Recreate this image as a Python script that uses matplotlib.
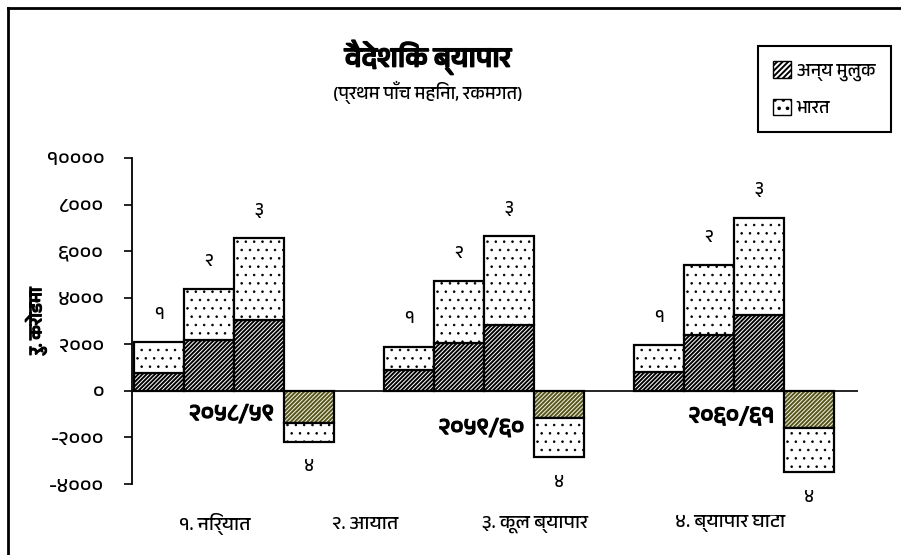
import matplotlib
matplotlib.use("Agg")
import matplotlib.pyplot as plt
import matplotlib.font_manager as fm
import matplotlib.patheffects as pe
from matplotlib.ft2font import FT2Font
from matplotlib.patches import Patch
from matplotlib.lines import Line2D

# find a font with Devanagari glyphs, if one is installed
def find_deva_font():
    names = []
    for f in fm.fontManager.ttflist:
        try:
            cmap = FT2Font(f.fname).get_charmap()
        except Exception:
            continue
        if 0x0915 in cmap and 0x0966 in cmap:
            names.append(f.name)
    names.sort(key=lambda n: ("Devanagari" not in n, n))
    return names[0] if names else None

deva = find_deva_font()
fams = [deva, "DejaVu Sans"] if deva else ["DejaVu Sans"]
plt.rcParams['font.family'] = fams
plt.rcParams['hatch.linewidth'] = 1.4

# data (रु. करोडमा)
years = ['२०५८/५९', '२०५९/६०', '२०६०/६१']
bar_nums = ['१', '२', '३', '४']
categories = ['१. निर्यात', '२. आयात', '३. कूल ब्यापार', '४. ब्यापार घाटा']
anya_muluk = [[770, 2190, 3050, -1390],
              [900, 2050, 2830, -1170],
              [830, 2400, 3260, -1600]]
bharat = [[1330, 2170, 3500, -790],
          [1000, 2670, 3820, -1680],
          [1120, 3010, 4180, -1890]]
yticks = [-4000, -2000, 0, 2000, 4000, 6000, 8000, 10000]
ytick_labels = ['-४०००', '-२०००', '०', '२०००', '४०००', '६०००', '८०००', '१००००']

bold = [pe.withStroke(linewidth=0.9, foreground='black')]

fig = plt.figure(figsize=(9.01, 5.55), dpi=100)
ax = fig.add_axes([132 / 901, 1 - 484 / 555, 726 / 901, 326 / 555])

olive_face = '#f4f4e4'
olive_hatch = '#55551c'


def thin_dots(bars):
    for p in bars:
        if hasattr(p, 'set_hatch_linewidth'):
            p.set_hatch_linewidth(0.6)


for g, year in enumerate(years):
    for i in range(4):
        x = 5 * g + i
        a = anya_muluk[g][i]
        b = bharat[g][i]
        if i == 3:
            # deficit bar: olive hatch, black outline drawn separately
            ax.bar(x, a, width=1, color=olive_face, edgecolor=olive_hatch,
                   hatch='////////', linewidth=0)
            ax.bar(x, a, width=1, fill=False, edgecolor='black', linewidth=1.6)
        else:
            ax.bar(x, a, width=1, color='white', edgecolor='black',
                   hatch='////////', linewidth=1.6)
        bb = ax.bar(x, b, bottom=a, width=1, color='white', edgecolor='black',
                    hatch='..', linewidth=1.6)
        thin_dots(bb)
        total = a + b
        off = 20 if total > 0 else -18
        ax.annotate(bar_nums[i], (x, total), xytext=(0, off),
                    textcoords='offset points', ha='center', va='center',
                    fontsize=13)

year_y = [-1000, -1600, -1100]
for g, year in enumerate(years):
    ax.text(5 * g + 1.45, year_y[g], year, ha='center', va='center',
            fontsize=17, path_effects=bold)

ax.axhline(0, color='black', linewidth=1.2, zorder=5)
ax.set_xlim(-0.54, 13.98)
ax.set_ylim(-4000, 10000)
ax.set_yticks(yticks)
ax.set_yticklabels(ytick_labels, fontsize=15)
ax.set_xticks([])
for s in ['top', 'right', 'bottom']:
    ax.spines[s].set_visible(False)
ax.spines['left'].set_linewidth(1.3)
ax.tick_params(axis='y', length=6, width=1.2, pad=14)
ax.set_ylabel('रु. करोडमा', fontsize=13, labelpad=0, path_effects=bold)

# titles
fig.text(428 / 901, 1 - 57 / 555, 'वैदेशिक ब्यापार', ha='center', va='center',
         fontsize=20, path_effects=[pe.withStroke(linewidth=1.3, foreground='black')])
fig.text(428 / 901, 1 - 92 / 555, '(प्रथम पाँच महिना, रकमगत)', ha='center',
         va='center', fontsize=13)

# category names along the bottom
cat_x = [215, 365, 535, 730]
for cx, c in zip(cat_x, categories):
    fig.text(cx / 901, 1 - 524 / 555, c, ha='center', va='center', fontsize=14)

# legend
handles = [Patch(facecolor='white', edgecolor='black', hatch='//////'),
           Patch(facecolor='white', edgecolor='black', hatch='..')]
leg = fig.legend(handles, ['अन्य मुलुक', 'भारत'], loc='upper left',
                 bbox_to_anchor=(758 / 901, 1 - 46 / 555), fontsize=13,
                 handlelength=1.0, handleheight=1.0, handletextpad=0.3,
                 labelspacing=1.0, borderpad=0.85, borderaxespad=0,
                 fancybox=False, edgecolor='black', framealpha=1)
leg.get_frame().set_linewidth(1.5)

# outer frame (top and left edges visible)
fig.add_artist(Line2D([8 / 901, 8 / 901], [1 - 8 / 555, 0], color='black',
                      linewidth=2, transform=fig.transFigure))
fig.add_artist(Line2D([8 / 901, 1], [1 - 8 / 555, 1 - 8 / 555], color='black',
                      linewidth=2, transform=fig.transFigure))

fig.savefig('out.png', dpi=100)
